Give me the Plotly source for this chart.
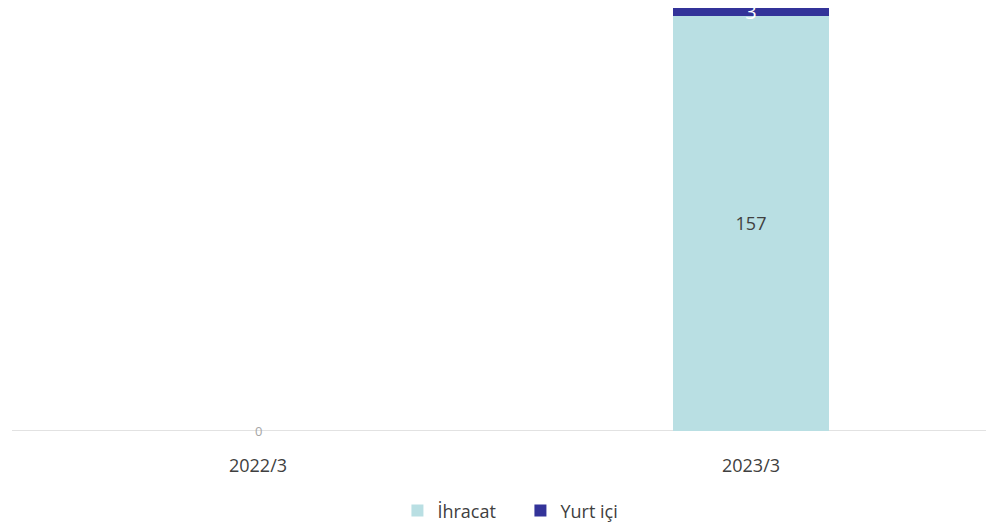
import plotly.graph_objects as go

categories = ["2022/3", "2023/3"]
ihracat = [0, 157]
yurt_ici = [0, 3]

x_pos = [0, 1]
label_font = "Open Sans, Noto Sans, sans-serif"

fig = go.Figure()
fig.add_trace(go.Bar(
    name="İhracat", x=x_pos, y=ihracat,
    marker=dict(color="#B9DFE3", line=dict(width=0)),
    width=0.316,
    text=[str(v) if v else "" for v in ihracat],
    textposition="inside", insidetextanchor="middle", textangle=0,
    textfont=dict(color="#404040", size=18, family=label_font),
    constraintext="none",
))
fig.add_trace(go.Bar(
    name="Yurt içi", x=x_pos, y=yurt_ici,
    marker=dict(color="#333399", line=dict(width=0)),
    width=0.316,
    text=[str(v) if v else "" for v in yurt_ici],
    textposition="inside", insidetextanchor="middle", textangle=0,
    textfont=dict(color="#FFFFFF", size=20, family=label_font),
    constraintext="none", cliponaxis=False,
))

# zero-value label for the empty period
fig.add_annotation(x=x_pos[0], y=ihracat[0] + yurt_ici[0], text=str(ihracat[0] + yurt_ici[0]),
                   showarrow=False, yanchor="middle",
                   font=dict(color="#A6A6A6", size=13, family=label_font))

fig.update_layout(
    barmode="stack",
    width=986, height=532,
    margin=dict(l=12, r=0, t=0, b=101, autoexpand=False),
    paper_bgcolor="white", plot_bgcolor="white",
    showlegend=True,
    legend=dict(orientation="h", x=0.522, xanchor="center",
                yref="container", y=0.005, yanchor="bottom",
                font=dict(size=18, color="#404040", family=label_font),
                traceorder="normal", itemwidth=30, entrywidth=78),
    xaxis=dict(range=[-0.499, 1.4767], tickvals=x_pos, ticktext=categories,
               showgrid=False, zeroline=False, showline=False, automargin=False,
               tickfont=dict(size=18, color="#404040", family=label_font),
               ticks="", ticklabelstandoff=22),
    yaxis=dict(range=[0, 163], visible=False, showgrid=False, zeroline=False),
)
fig.add_shape(type="line", xref="paper", yref="y", x0=0, x1=1, y0=0, y1=0,
              line=dict(color="#D9D9D9", width=1.5), layer="below")

fig.write_html("out.html")
